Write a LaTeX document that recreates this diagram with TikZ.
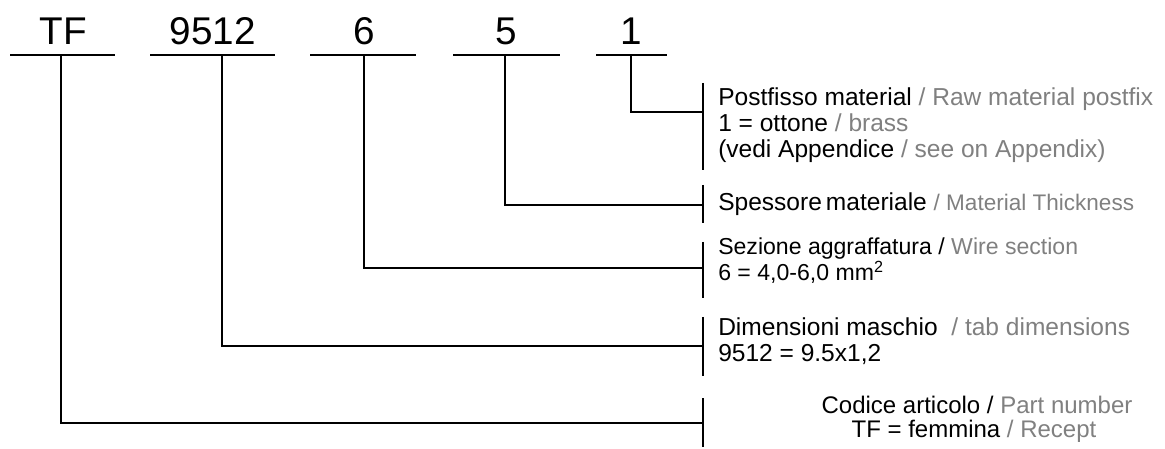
\documentclass[tikz,border=0pt]{standalone}
\usepackage{fontspec}
\setmainfont{Liberation Sans}
\definecolor{lgray}{RGB}{128,128,128}
\newcommand{\gr}[1]{\textcolor{lgray}{#1}}
\newcommand{\fs}[1]{\fontsize{#1}{#1}\selectfont}
\tikzset{
  code/.style={inner sep=0pt, anchor=base, font=\fs{29}},
  desc/.style={inner sep=0pt, anchor=base west, font=\fs{18.4}},
  link/.style={line width=1.4pt},
  barline/.style={line width=1.5pt}
}
\begin{document}
\begin{tikzpicture}[x=0.75pt,y=-0.75pt]
\useasboundingbox (0,0) rectangle (1165,449);
% top codes
\node[code] (tf) at (63,45) {TF};
\node[code] (c9512) at (213,45) {9512};
\node[code] (c6) at (364,45) {6};
\node[code] (c5) at (506,45) {5};
\node[code] (c1) at (631,45) {1};
% underlines
\draw[link] (10,55) -- (115,55);
\draw[link] (150,55) -- (275,55);
\draw[link] (310,55) -- (416,55);
\draw[link] (453,55) -- (560,55);
\draw[link] (596,55) -- (667,55);
\coordinate (utf) at (61,55);
\coordinate (u9512) at (222,55);
\coordinate (u6) at (364,55);
\coordinate (u5) at (505,55);
\coordinate (u1) at (631,55);
% bars
\draw[barline] (703,83) -- (703,170);
\draw[barline] (703,185) -- (703,223);
\draw[barline] (703,242) -- (703,298);
\draw[barline] (703,317) -- (703,376);
\draw[barline] (703,398) -- (703,447);
\coordinate (b1) at (703,112);
\coordinate (b5) at (703,205);
\coordinate (b6) at (703,268);
\coordinate (b9512) at (703,346);
\coordinate (btf) at (703,423);
% connectors
\draw[link] (u1) |- (b1);
\draw[link] (u5) |- (b5);
\draw[link] (u6) |- (b6);
\draw[link] (u9512) |- (b9512);
\draw[link] (utf) |- (btf);
% descriptions
\node[desc] (d1a) at (718,106) {Postfisso material \gr{/ Raw material postfix}};
\node[desc] (d1b) at (718,132) {1 = ottone \gr{/ brass}};
\node[desc] (d1c) at (718,158) {(vedi Appendice \gr{/ see on Appendix)}};
\node[desc] (d2) at (718,211) {Spessore\,materiale {\fs{16.9}\gr{/ Material Thickness}}};
\node[desc, font=\fs{17.3}] (d3a) at (718,255) {Sezione aggraffatura / \gr{Wire section}};
\node[desc, font=\fs{17.3}] (d3b) at (718,281) {6 = 4,0-6,0 mm\textsuperscript{2}};
\node[desc] (d4a) at (718,335) {Dimensioni maschio\ \ \gr{/ tab dimensions}};
\node[desc] (d4b) at (718,361) {9512 = 9.5x1,2};
\node[desc, anchor=base, font=\fs{18}] (d5a) at (977,413) {Codice articolo / \gr{Part number}};
\node[desc, anchor=base, font=\fs{18}] (d5b) at (974,437) {TF = femmina \gr{/ Recept}};
\end{tikzpicture}
\end{document}
